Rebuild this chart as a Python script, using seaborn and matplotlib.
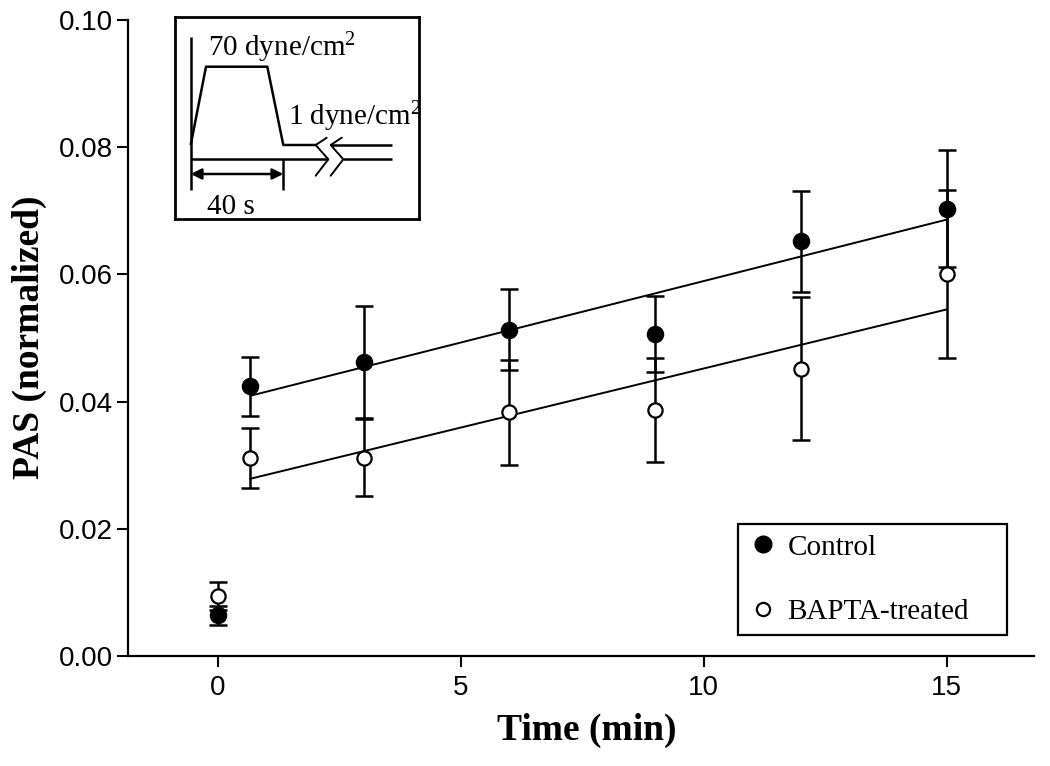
import matplotlib
matplotlib.use('Agg')
import matplotlib.pyplot as plt
import seaborn as sns
import numpy as np
import pandas as pd
from matplotlib.lines import Line2D

# ---------------- data ----------------
time_min = [0, 0.667, 3, 6, 9, 12, 15]
control = [0.0064, 0.0424, 0.0462, 0.0513, 0.0506, 0.0652, 0.0703]
control_err = [0.0015, 0.0046, 0.0088, 0.0064, 0.0060, 0.0079, 0.0092]
bapta = [0.0094, 0.0311, 0.0312, 0.0383, 0.0387, 0.0452, 0.0601]
bapta_err = [0.0022, 0.0047, 0.0061, 0.0082, 0.0082, 0.0112, 0.0132]
series_labels = ['Control', 'BAPTA-treated']
x_ticks = [0, 5, 10, 15]
y_ticks = [0.00, 0.02, 0.04, 0.06, 0.08, 0.10]
x_label = 'Time (min)'
y_label = 'PAS (normalized)'
inset_texts = ['70 dyne/cm$^2$', '1 dyne/cm$^2$', '40 s']

# ---------------- style ----------------
sns.set_theme(style='ticks')
plt.rcParams['font.family'] = ['Liberation Serif', 'DejaVu Serif']
plt.rcParams['mathtext.fontset'] = 'custom'
plt.rcParams['mathtext.rm'] = 'Liberation Serif'
plt.rcParams['mathtext.it'] = 'Liberation Serif'
plt.rcParams['axes.edgecolor'] = 'black'
plt.rcParams['text.color'] = 'black'
plt.rcParams['axes.labelcolor'] = 'black'

W, H = 1050, 766
fig = plt.figure(figsize=(W / 100, H / 100), dpi=100)
fig.patch.set_facecolor('white')

ax = fig.add_axes([128 / W, 1 - 656 / H, (1034 - 128) / W, (656 - 20) / H])
ax.set_facecolor('white')

df = pd.DataFrame({'t': time_min, 'control': control, 'c_err': control_err,
                   'bapta': bapta, 'b_err': bapta_err})
fit = df[df['t'] > 0]

# error bars
ax.errorbar(df['t'], df['control'], yerr=df['c_err'], fmt='none', ecolor='black',
            elinewidth=1.8, capsize=6.5, capthick=1.8, zorder=2)
ax.errorbar(df['t'], df['bapta'], yerr=df['b_err'], fmt='none', ecolor='black',
            elinewidth=1.8, capsize=6.5, capthick=1.8, zorder=2)

# regression lines
sns.regplot(data=fit, x='t', y='control', ax=ax, ci=None, scatter=False, truncate=True,
            line_kws=dict(color='black', lw=1.4, zorder=3))
sns.regplot(data=fit, x='t', y='bapta', ax=ax, ci=None, scatter=False, truncate=True,
            line_kws=dict(color='black', lw=1.4, zorder=3))

# markers
sns.scatterplot(data=df, x='t', y='control', ax=ax, color='black', edgecolor='black',
                marker='o', s=135, linewidth=1, zorder=5, legend=False)
sns.scatterplot(data=df, x='t', y='bapta', ax=ax, color='white', edgecolor='black',
                marker='o', s=105, linewidth=1.6, zorder=5, legend=False)

ax.set_xlim(-1.85, 16.8)
ax.set_ylim(0, 0.1)
ax.set_xticks(x_ticks)
ax.set_yticks(y_ticks)
ax.set_xticklabels([str(v) for v in x_ticks])
ax.set_yticklabels([f'{v:.2f}' for v in y_ticks])
sns.despine(ax=ax)
for s in ['left', 'bottom']:
    ax.spines[s].set_linewidth(1.6)
    ax.spines[s].set_color('black')
ax.tick_params(axis='both', direction='out', length=8, width=1.5, color='black',
               labelcolor='black')
ax.tick_params(axis='x', pad=6)
ax.tick_params(axis='y', pad=3)
for lab in ax.get_xticklabels() + ax.get_yticklabels():
    lab.set_fontfamily('Liberation Sans')
    lab.set_fontsize(20)

ax.set_xlabel(x_label, fontsize=27, fontweight='bold', color='black')
ax.set_ylabel(y_label, fontsize=27, fontweight='bold', color='black')
ax.xaxis.set_label_coords((587 - 128) / 906, -(730 - 656) / 636)
ax.xaxis.label.set_va('center')
ax.yaxis.set_label_coords((29 - 128) / 906, (656 - 337) / 636)
ax.yaxis.label.set_va('center')
ax.grid(False)

# legend
handles = [Line2D([], [], marker='o', ls='none', mfc='black', mec='black', ms=12),
           Line2D([], [], marker='o', ls='none', mfc='white', mec='black', ms=9.5, mew=1.6)]
leg = ax.legend(handles, series_labels, loc='upper left',
                bbox_to_anchor=(738 / W, 1 - 524 / H, 269 / W, 0),
                bbox_transform=fig.transFigure, mode='expand', borderaxespad=0,
                fontsize=21, frameon=True, fancybox=False, borderpad=0.35,
                handlelength=1.0, handletextpad=0.35, labelspacing=1.3)
leg.get_frame().set_edgecolor('black')
leg.get_frame().set_linewidth(1.6)
leg.get_frame().set_facecolor('white')
leg.get_frame().set_alpha(1)
for t in leg.get_texts():
    t.set_color('black')

# ---------------- inset schematic ----------------
L, R, T, B = 175, 419, 17, 219
iax = fig.add_axes([L / W, 1 - B / H, (R - L) / W, (B - T) / H])
iax.set_xlim(L, R)
iax.set_ylim(B, T)
iax.set_xticks([])
iax.set_yticks([])
iax.set_facecolor('white')
for s in iax.spines.values():
    s.set_linewidth(2)
    s.set_color('black')
    s.set_visible(True)

k = dict(color='black', lw=1.8, solid_capstyle='butt')
x0 = 190.7
iax.plot([x0, x0], [36.7, 190], **k)
iax.plot([x0, 206, 267.3, 283.3, 315.7], [145, 66.7, 66.7, 145, 145], **k)
iax.plot([330.7, 391.7], [145, 145], **k)
iax.plot([x0, 328.3], [159.3, 159.3], **k)
iax.plot([343.3, 391.7], [159.3, 159.3], **k)
iax.plot([326.7, 315.7, 328.3, 315.7], [137.7, 145, 159.3, 175.7], color='black', lw=1.4)
iax.plot([341.7, 330.7, 343.3, 330.7], [137.7, 145, 159.3, 175.7], color='black', lw=1.4)
iax.plot([283.3, 283.3], [159.3, 190], **k)
iax.annotate('', xy=(283.3, 174), xytext=(x0, 174),
             arrowprops=dict(arrowstyle='<|-|>', color='black', lw=1.8,
                             mutation_scale=16, shrinkA=0, shrinkB=0))
iax.text(208, 56.7, inset_texts[0], fontsize=21, va='baseline', ha='left', color='black')
iax.text(288.3, 125, inset_texts[1], fontsize=21, va='baseline', ha='left', color='black')
iax.text(206.7, 214, inset_texts[2], fontsize=21, va='baseline', ha='left', color='black')

fig.savefig('out.png', dpi=100, facecolor='white')
